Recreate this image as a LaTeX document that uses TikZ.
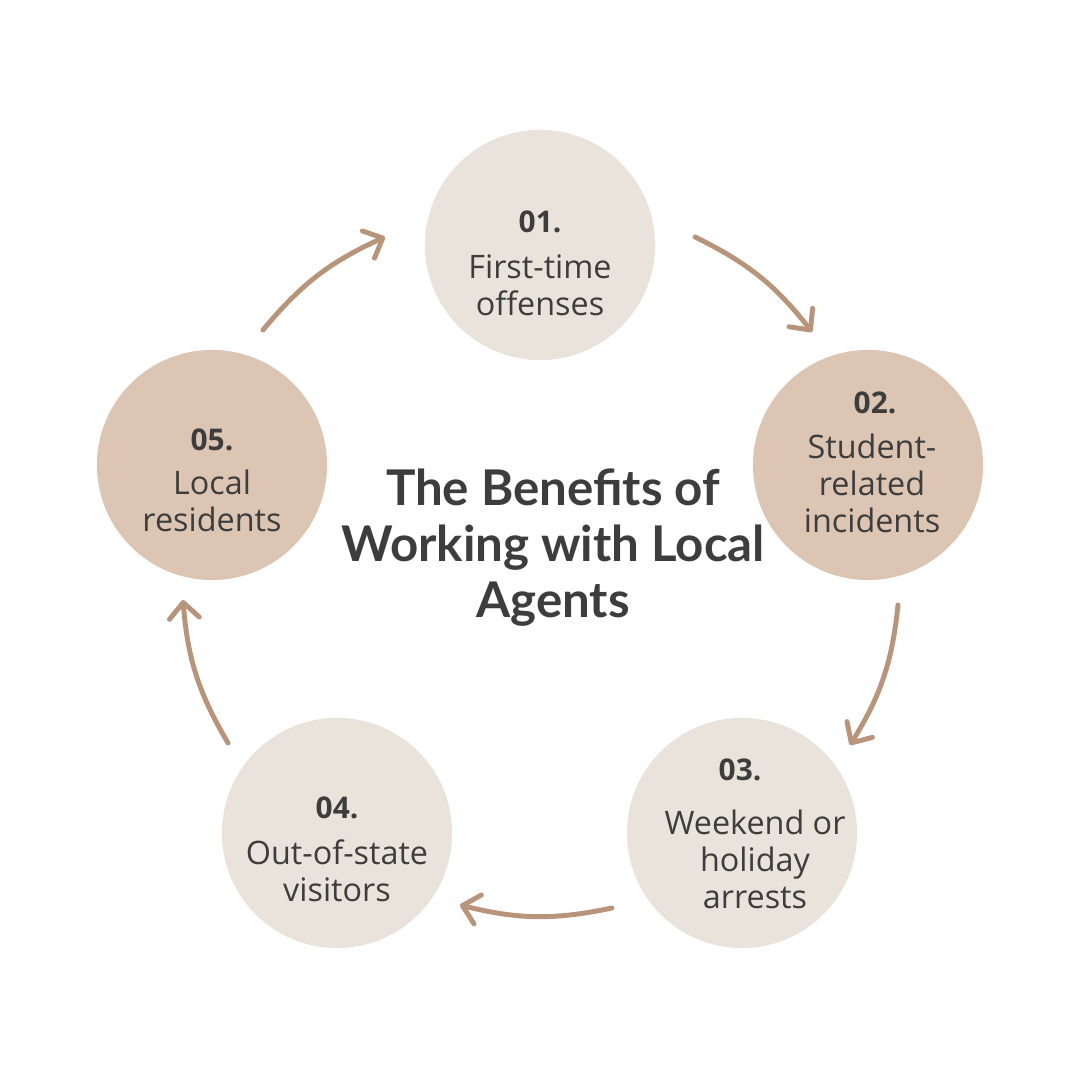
\documentclass[tikz,border=0pt]{standalone}
\usepackage{fontspec}
\setmainfont{Open Sans}
\newfontfamily\titlefont{Lato}
\usetikzlibrary{arrows.meta}
\definecolor{lightbg}{HTML}{E9E3DC}
\definecolor{darkbg}{HTML}{DCC5B3}
\definecolor{arrowcol}{HTML}{B8947A}
\definecolor{textcol}{HTML}{3D3D3D}
\tikzset{
  stage/.style={circle, minimum size=2.3cm, inner sep=0pt},
  num/.style={text=textcol, font=\fontsize{8.5pt}{10pt}\selectfont\bfseries},
  body/.style={text=textcol, align=center, font=\fontsize{9.2pt}{10.5pt}\selectfont},
  flow/.style={draw=arrowcol, line width=1.4pt, line cap=round, bend left=13,
    -{Straight Barb[length=4.5pt, width=8.5pt, line width=1.4pt, round]}},
}
\begin{document}
\begin{tikzpicture}[x=0.01cm, y=0.01cm]
\useasboundingbox[fill=white] (0,0) rectangle (1080,1080);

\node[stage, fill=lightbg] (first) at (540,835) {};
\node[num] (first_num) at (540,858) {01.};
\node[body] (first_text) at (540,795) {First-time\\offenses};

\node[stage, fill=darkbg] (student) at (868,615) {};
\node[num] (student_num) at (875,677) {02.};
\node[body] (student_text) at (872,597) {Student-\\related\\incidents};

\node[stage, fill=lightbg] (weekend) at (742,247) {};
\node[num] (weekend_num) at (740,310) {03.};
\node[body] (weekend_text) at (755,221) {Weekend or\\holiday\\arrests};

\node[stage, fill=lightbg] (visitors) at (337,247) {};
\node[num] (visitors_num) at (337,272) {04.};
\node[body] (visitors_text) at (337,209) {Out-of-state\\visitors};

\node[stage, fill=darkbg] (residents) at (212,615) {};
\node[num] (residents_num) at (212,640) {05.};
\node[body] (residents_text) at (212,579) {Local\\residents};

\node[text=textcol, align=center, font=\titlefont\fontsize{14pt}{15.9pt}\selectfont\bfseries] (title) at (553,532)
  {The Benefits of\\Working with Local\\Agents};

\coordinate (a1s) at (263,750); \coordinate (a1e) at (385,843);
\coordinate (a2s) at (695,843); \coordinate (a2e) at (812,748);
\coordinate (a3s) at (898,475); \coordinate (a3e) at (850,335);
\coordinate (a4s) at (612,172); \coordinate (a4e) at (460,175);
\coordinate (a5s) at (228,337); \coordinate (a5e) at (183,480);

\draw[flow] (a1s) to (a1e);
\draw[flow] (a2s) to (a2e);
\draw[flow] (a3s) to (a3e);
\draw[flow] (a4s) to (a4e);
\draw[flow] (a5s) to (a5e);

\end{tikzpicture}
\end{document}
